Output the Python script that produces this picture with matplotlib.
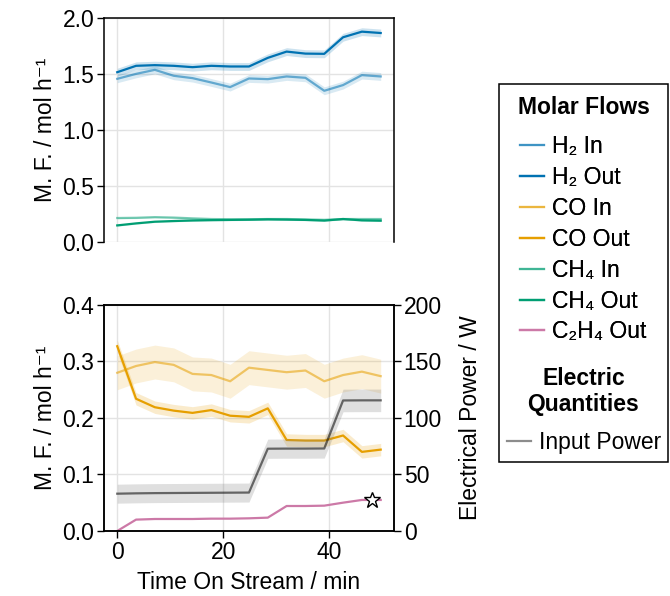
import numpy as np
import matplotlib
matplotlib.use("Agg")
import matplotlib.pyplot as plt
from matplotlib.patches import Rectangle
from matplotlib.lines import Line2D

plt.rcParams['font.family'] = ['Liberation Sans', 'DejaVu Sans']
fs = 16.5
plt.rcParams['font.size'] = fs

# time on stream (min)
tos = [0, 3.55, 7.1, 10.65, 14.2, 17.75, 21.3, 24.85, 28.4, 31.95, 35.5, 39.05, 42.6, 46.15, 49.7]

# molar flows, mol/h
h2_in = [1.457, 1.501, 1.537, 1.484, 1.463, 1.424, 1.383, 1.460, 1.454, 1.478, 1.466, 1.350, 1.401, 1.490, 1.478]
h2_out = [1.516, 1.573, 1.579, 1.573, 1.561, 1.573, 1.567, 1.567, 1.644, 1.700, 1.682, 1.680, 1.828, 1.878, 1.866]
co_in = [0.280, 0.292, 0.299, 0.294, 0.278, 0.276, 0.265, 0.289, 0.285, 0.281, 0.284, 0.265, 0.276, 0.282, 0.274]
co_out = [0.327, 0.234, 0.219, 0.213, 0.209, 0.214, 0.204, 0.202, 0.217, 0.161, 0.160, 0.160, 0.169, 0.140, 0.144]
ch4_in = [0.214, 0.216, 0.222, 0.218, 0.211, 0.205, 0.203, 0.203, 0.205, 0.205, 0.202, 0.198, 0.205, 0.205, 0.205]
ch4_out = [0.148, 0.166, 0.181, 0.187, 0.192, 0.195, 0.197, 0.199, 0.202, 0.200, 0.197, 0.191, 0.205, 0.193, 0.190]
c2h4_out = [0.0, 0.0201, 0.0212, 0.0212, 0.0212, 0.0218, 0.0218, 0.0224, 0.0236, 0.0442, 0.0442, 0.0448, 0.0501, 0.0549, 0.0549]

# uncertainty half-widths
h2_err = 0.035
co_in_err = 0.03
co_out_err = 0.011
ch4_err = 0.007

# electrical input power, W
power = [33.0, 33.3, 33.5, 33.6, 33.7, 33.8, 33.9, 34.0, 72.8, 72.9, 72.9, 73.0, 115.5, 115.6, 115.6]
power_err = [8.4, 8.4, 8.4, 8.4, 8.4, 8.4, 8.4, 8.4, 8.5, 8.5, 8.5, 8.5, 10.0, 10.0, 10.0]

star_x = 48.0
star_y = 0.0549

blue = '#0072B2'
orange = '#E69F00'
green = '#009E73'
pink = '#CC79A7'

t = np.array(tos)

fig = plt.figure(figsize=(6.7, 5.96), dpi=100)
ax1 = fig.add_axes([0.1552, 0.594, 0.4328, 0.3758])
ax3 = fig.add_axes([0.1552, 0.1091, 0.4328, 0.3792])
ax4 = ax3.twinx()


def band(ax, y, err, color, a_line, a_band=0.2, lw=1.6):
    y = np.array(y)
    ax.fill_between(t, y - err, y + err, color=color, alpha=a_band, lw=0)
    ax.plot(t, y, color=color, alpha=a_line, lw=lw)


# top panel: H2 and CH4
band(ax1, h2_in, h2_err, blue, 0.55, a_band=0.15)
band(ax1, h2_out, h2_err, blue, 1.0)
band(ax1, ch4_in, ch4_err, green, 0.5)
band(ax1, ch4_out, ch4_err, green, 1.0)
ax1.set_ylim(0, 2.0)
ax1.set_yticks([0, 0.5, 1.0, 1.5, 2.0])
ax1.set_yticklabels(['0.0', '0.5', '1.0', '1.5', '2.0'])
ax1.set_ylabel('M. F. / mol h⁻¹')
ax1.spines['bottom'].set_visible(False)
ax1.tick_params(axis='x', bottom=False, labelbottom=False)

# bottom panel: CO, C2H4 and power
band(ax3, co_in, co_in_err, orange, 0.55, a_band=0.15)
band(ax3, co_out, co_out_err, orange, 1.0)
ax3.plot(t, c2h4_out, color=pink, lw=1.6)
ax3.plot(star_x, star_y, marker='*', ms=12, mfc='white', mec='black', mew=1.0, zorder=5)
ax3.set_ylim(0, 0.4)
ax3.set_yticks([0, 0.1, 0.2, 0.3, 0.4])
ax3.set_yticklabels(['0.0', '0.1', '0.2', '0.3', '0.4'])
ax3.set_ylabel('M. F. / mol h⁻¹')
ax3.set_xlabel('Time On Stream / min', labelpad=5)

p = np.array(power)
pe = np.array(power_err)
ax4.fill_between(t, p - pe, p + pe, color='gray', alpha=0.25, lw=0)
ax4.plot(t, p, color='black', alpha=0.55, lw=1.6)
ax4.set_ylim(0, 200)
ax4.set_yticks([0, 50, 100, 150, 200])
ax4.set_ylabel('Electrical Power / W', labelpad=12)

for ax in (ax1, ax3):
    ax.set_xlim(-2.5, 52.2)
    ax.set_xticks([0, 20, 40])
    ax.grid(True, color='#e3e3e3', lw=1)
    ax.set_axisbelow(True)
for ax in (ax1, ax3, ax4):
    ax.tick_params(direction='out', length=5, width=1, labelsize=fs, pad=2)
    for s in ax.spines.values():
        s.set_linewidth(1.1)

# legend box
fig.patches.append(Rectangle((0.7448, 0.2248), 0.2522, 0.634, transform=fig.transFigure,
                             fill=False, edgecolor='black', lw=1.1))

fig.text(583.5 / 670, 1 - 108 / 596, 'Molar Flows', ha='center', va='center',
         fontweight='bold', fontsize=fs)
fig.text(583.5 / 670, 1 - 391.5 / 596, 'Electric\nQuantities', ha='center', va='center',
         fontweight='bold', fontsize=fs, linespacing=1.15)

names = ['H₂ In', 'H₂ Out', 'CO In', 'CO Out', 'CH₄ In', 'CH₄ Out', 'C₂H₄ Out']
cols = [blue, blue, orange, orange, green, green, pink]
alphas = [0.5, 1, 0.5, 1, 0.5, 1, 1]
handles = [Line2D([], [], color=c, alpha=a, lw=1.6) for c, a in zip(cols, alphas)]
leg1 = fig.legend(handles, names, loc='upper left', bbox_to_anchor=(520 / 670, 1 - 135 / 596),
                  frameon=False, handlelength=1.05, handletextpad=0.35,
                  labelspacing=0.345, fontsize=fs, borderpad=0, borderaxespad=0)
leg2 = fig.legend([Line2D([], [], color='black', alpha=0.45, lw=1.6)], ['Input Power'],
                  loc='upper left', bbox_to_anchor=(507 / 670, 1 - 431 / 596), frameon=False,
                  handlelength=1.05, handletextpad=0.35,
                  fontsize=fs, borderpad=0, borderaxespad=0)
fig.add_artist(leg1)

fig.savefig('out.png', dpi=100)
